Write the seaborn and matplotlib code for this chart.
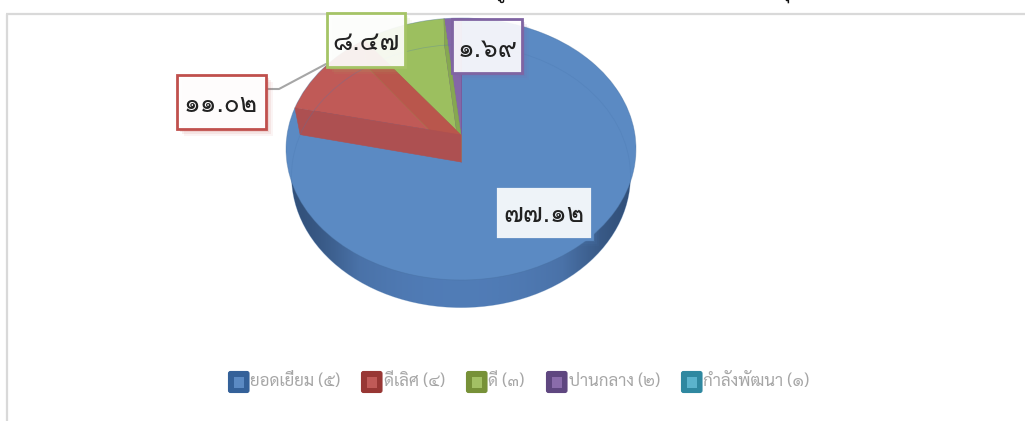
import numpy as np
import seaborn as sns
import matplotlib
matplotlib.use("Agg")
import matplotlib.pyplot as plt
from matplotlib.patches import Rectangle, FancyBboxPatch, Polygon, Circle
from matplotlib.transforms import Transform

labels = ["ยอดเยี่ยม (๕)", "ดีเลิศ (๔)", "ดี (๓)", "ปานกลาง (๒)", "กำลังพัฒนา (๑)"]
values = [77.12, 11.02, 8.47, 1.69, 0]
value_labels = ["๗๗.๑๒", "๑๑.๐๒", "๘.๔๗", "๑.๖๙"]

sns.set_theme(style="white")
plt.rcParams["font.family"] = ["Sarabun", "DejaVu Sans"]

# colours of the slice tops, cut faces and legend swatches
top_colors = sns.color_palette(["#5b8ac3", "#c05a57", "#9cbf5f", "#8467a8", "#4bacc6"])
wall_colors = sns.color_palette(["#4f7cb6", "#ad5051", "#86a850", "#7a5c9c", "#4bacc6"])
swatch_colors = ["#346199", "#983734", "#779138", "#5f4780", "#2f88a0"]
inner_colors = ["#5b8ac3", "#c05a57", "#a3c064", "#8a6cab", "#5bb3cc"]
box_colors = ["#5b8ac3", "#c0504d", "#a5c466", "#8064a2"]


class PieView(Transform):
    # unit disc of the pie -> pixels, tilted with some perspective
    input_dims = 2
    output_dims = 2

    def __init__(self, apex_y, x_scale, y_scale):
        super().__init__()
        self.apex_y = apex_y
        self.x_scale = x_scale
        self.y_scale = y_scale

    def transform_non_affine(self, xy):
        xy = np.asarray(xy, dtype=float)
        d = 1 + 0.107 * xy[:, 1]
        return np.column_stack([461 + self.x_scale * xy[:, 0] / d,
                                self.apex_y - self.y_scale * xy[:, 1] / d])


top_view = PieView(135, 174, 129.5)
bottom_view = PieView(162, 168.5, 130)

fig = plt.figure(figsize=(10.25, 4.21), dpi=100)
ax = fig.add_axes([0, 0, 1, 1])
wedges, _ = ax.pie(values, colors=top_colors, startangle=90, counterclock=False,
                   wedgeprops=dict(linewidth=0))
ax.set_aspect("auto")
ax.axis("on")
ax.set_frame_on(False)
ax.set_xticks([])
ax.set_yticks([])

for w in wedges:
    w.set_transform(top_view + ax.transData)
    w.set_zorder(3)

# outer wall of the pie: the bottom face under a dark-to-light sideways gradient
bottom_face = Circle((0, 0), 1, transform=bottom_view + ax.transData, facecolor="none", edgecolor="none")
ax.add_patch(bottom_face)
shade = np.array([[0.0, 0.55, 0.9, 1.0, 0.9, 0.55, 0.0]])
gradient = sns.blend_palette(["#314f78", "#4a72a8", "#517db8"], as_cmap=True)
img = ax.imshow(shade, cmap=gradient, extent=(286, 636, 310, 40), aspect="auto", zorder=2, interpolation="bicubic")
img.set_clip_path(bottom_face)
ax.set_xlim(0, 1025)
ax.set_ylim(421, 0)

# cut faces of the small slices, they show through the top
for i in [3, 2, 1]:
    w = wedges[i]
    for theta, face in [(w.theta1, "#b9564c" if i == 1 else wall_colors[i]), (w.theta2, wall_colors[i])]:
        rim = np.array([[np.cos(np.radians(theta)), np.sin(np.radians(theta))], [0, 0]])
        quad = np.vstack([top_view.transform(rim), bottom_view.transform(rim[::-1])])
        ax.add_patch(Polygon(quad, closed=True, facecolor=face, edgecolor=face, linewidth=0.4, zorder=4))

# faint outline of the bottom face seen through the top
ax.add_patch(Circle((0, 0), 1, transform=bottom_view + ax.transData, facecolor="none",
                    edgecolor="#4a78b0", linewidth=0.6, alpha=0.3, zorder=5))
ax.add_patch(Circle((0, 0), 1, transform=top_view + ax.transData, facecolor="none",
                    edgecolor="#48709f", linewidth=0.6, alpha=0.4, zorder=3.5))

# leader line of the red label
ax.plot([267, 279, 326], [89, 89, 64], color="#a6a6a6", linewidth=1.5, zorder=6)

# value boxes
boxes = [(495, 186, 97, 53, 0.9), (177, 75, 89, 54, 0.95), (327, 13, 78, 54, 0.9), (452, 19, 70, 54, 0.9)]
text_pos = [(544, 215), (221, 105), (366, 43), (488, 50)]
for i, (x, y, w, h, a) in enumerate(boxes):
    for off, al in [(7, 0.06), (5, 0.09), (3, 0.13)]:
        ax.add_patch(Rectangle((x + off, y + off), w, h, facecolor=box_colors[i], edgecolor="none",
                               alpha=al, zorder=7))
    ax.add_patch(Rectangle((x, y), w, h, facecolor=(1, 1, 1, a), edgecolor=box_colors[i],
                           linewidth=2.0, zorder=8))
    ax.text(text_pos[i][0], text_pos[i][1], value_labels[i], fontsize=19, color="#222222",
            ha="center", va="center", zorder=9, family=["Loma", "DejaVu Sans"])

# chart frame
ax.plot([7, 7], [421, 13.5], color="#d9d9d9", linewidth=1.6, zorder=1, solid_capstyle="butt")
ax.plot([6, 1025], [13.5, 13.5], color="#d9d9d9", linewidth=1.6, zorder=6.5, solid_capstyle="butt")

# legend laid out by hand
swatch_x = [228, 361, 466, 546, 681]
text_x = [250, 384, 488, 569, 703]
for i, lab in enumerate(labels):
    ax.add_patch(FancyBboxPatch((swatch_x[i] + 0.5, 371.5), 20.5, 21, boxstyle="round,pad=0,rounding_size=2",
                                facecolor=swatch_colors[i], edgecolor=swatch_colors[i], linewidth=0.8, zorder=3))
    ax.add_patch(Rectangle((swatch_x[i] + 6, 376.5), 10, 11, facecolor=inner_colors[i], edgecolor="none", zorder=4))
    ax.text(text_x[i], 381.5, lab, fontsize=12.1, color="#a6a6a6", ha="left", va="center", zorder=4)

# the chart title is cut off by the top of the image, only its lowest marks show
for x, mark in [(500, "ดู"), (785, "ดุ")]:
    ax.text(x, -7, mark, fontsize=14, color="#111111", ha="center", va="center", zorder=4, clip_on=True)

fig.savefig("out.png", dpi=100)
